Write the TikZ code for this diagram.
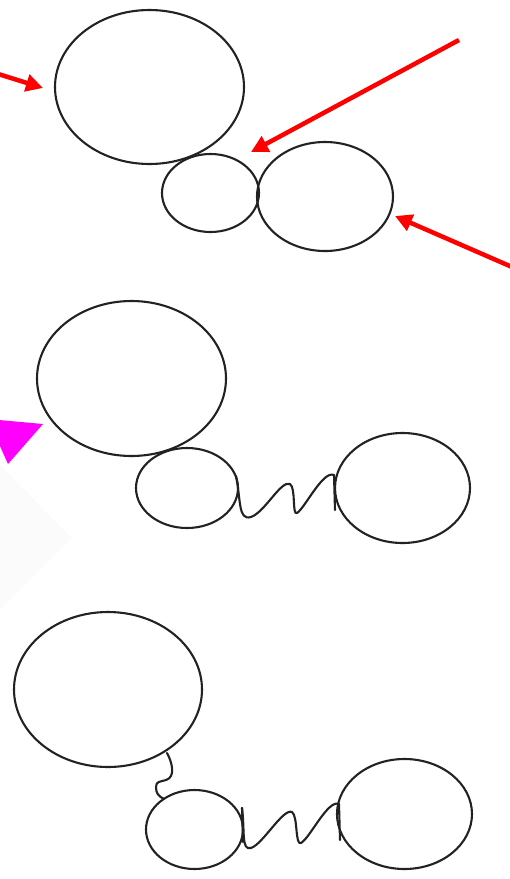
\documentclass[tikz,border=0pt]{standalone}
\usetikzlibrary{arrows.meta}
\definecolor{ink}{HTML}{222222}
\definecolor{faint}{HTML}{FBFBFB}
\definecolor{mag}{RGB}{255,0,255}
\definecolor{redar}{RGB}{255,0,0}
\tikzset{
  ball/.style={draw=ink, line width=2.1pt},
  spring/.style={draw=ink, line width=2.1pt, line cap=round, line join=round},
  redarrow/.style={draw=redar, line width=4.5pt, -{Triangle[length=17pt,width=17pt]}},
}
\begin{document}
\begin{tikzpicture}[x=1pt,y=-1pt]
\useasboundingbox (0,0) rectangle (510,879);
\begin{scope}
\clip (0,0) rectangle (510,879);
% faint diamond
\fill[faint] (0,465) -- (72,538) -- (0,610) -- cycle;
% magenta triangle
\fill[mag] (-12,419) -- (43,424) -- (8,464) -- cycle;

% Panel 1
\draw[ball] (149.5,87) ellipse [x radius=94.5, y radius=77];
\draw[ball] (210.5,193) ellipse [x radius=48.5, y radius=39];
\draw[ball] (325,196.5) ellipse [x radius=68, y radius=54.5];
\coordinate (r1s) at (-5,73);
\coordinate (r1e) at (43,88);
\coordinate (r2s) at (459,40);
\coordinate (r2e) at (251,152);
\coordinate (r3s) at (512,267);
\coordinate (r3e) at (395,216);
\draw[redarrow] (r1s) -- (r1e);
\draw[redarrow] (r2s) -- (r2e);
\draw[redarrow] (r3s) -- (r3e);

% Panel 2
\draw[ball] (131.5,378.5) ellipse [x radius=94.5, y radius=77.5];
\draw[ball] (187,488) ellipse [x radius=51, y radius=40];
\draw[ball] (402.5,488) ellipse [x radius=67.5, y radius=55];
\coordinate (s2a) at (236,476);
\coordinate (s2b) at (334,475);
\draw[spring] (s2a) .. controls (241,500) and (238,521) .. (251,517)
  .. controls (265,512) and (281,480) .. (290,484)
  .. controls (296,488) and (292,516) .. (297,513)
  .. controls (305,508) and (323,470) .. (s2b);
\coordinate (v2b) at (335,510);
\draw[spring] (s2b) -- (v2b);

% Panel 3
\draw[ball] (108,689.5) ellipse [x radius=94, y radius=77.5];
\draw[ball] (194.5,829.5) ellipse [x radius=48.5, y radius=39.5];
\draw[ball] (404.5,814) ellipse [x radius=67.5, y radius=55];
\coordinate (c3a) at (167,753);
\coordinate (c3b) at (164,799);
\draw[spring] (c3a) .. controls (172,762) and (176,777) .. (166,780)
  .. controls (160,782) and (156,781) .. (156,787)
  .. controls (156,793) and (158,796) .. (c3b);
\coordinate (s3a) at (242,808);
\coordinate (s3b) at (339,804);
\draw[spring] (s3a) .. controls (245,830) and (241,851) .. (251,848)
  .. controls (263,844) and (283,808) .. (292,812)
  .. controls (298,816) and (295,846) .. (301,843)
  .. controls (310,838) and (328,799) .. (s3b);
\coordinate (v3b) at (243,842);
\draw[spring] (s3a) -- (v3b);
\coordinate (w3b) at (340,840);
\draw[spring] (s3b) -- (w3b);
\end{scope}
\end{tikzpicture}
\end{document}
